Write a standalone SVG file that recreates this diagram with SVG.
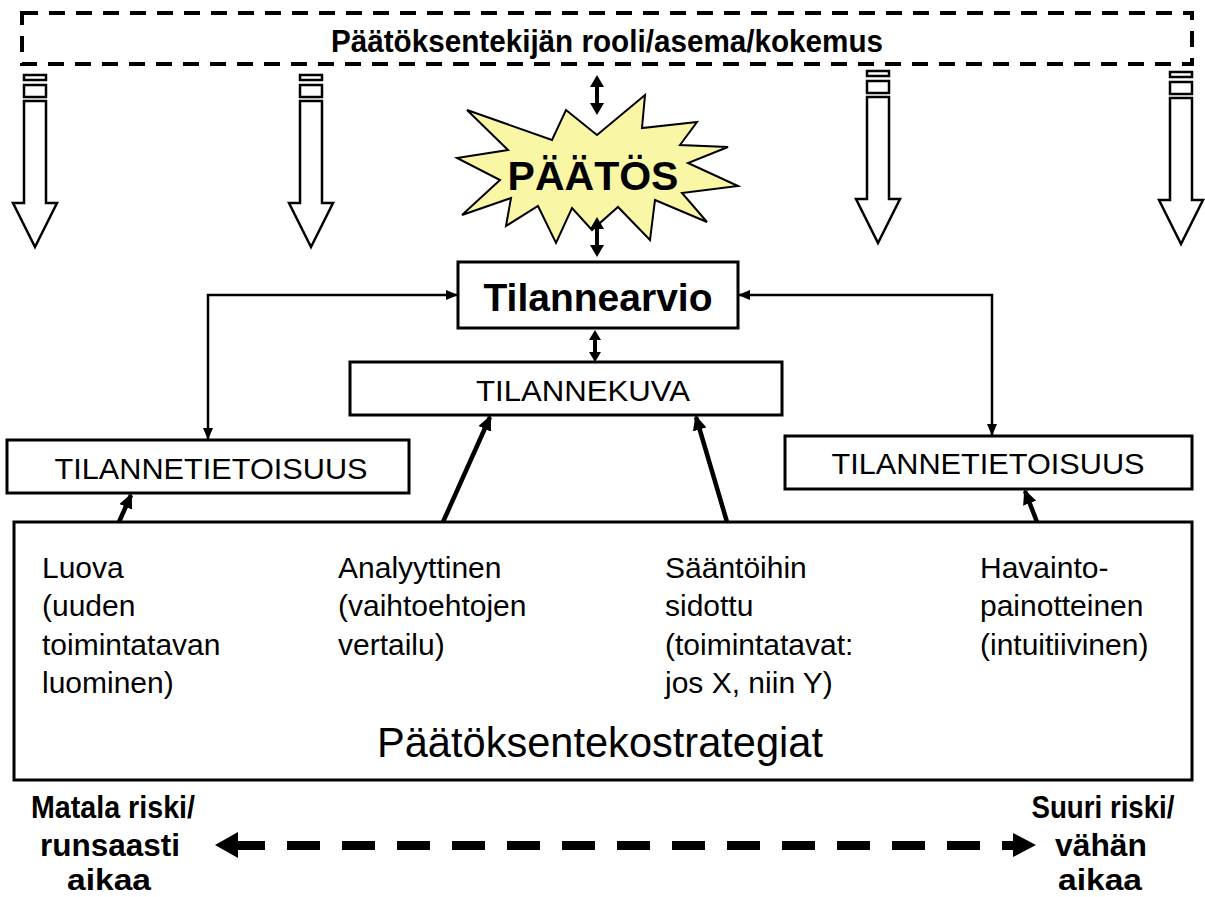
<svg xmlns="http://www.w3.org/2000/svg" width="1205" height="897" viewBox="0 0 1205 897">
  <style>
    .box { fill: #fff; stroke: #000; stroke-width: 3; }
    .hollow { fill: #fff; stroke: #000; stroke-width: 2.5; }
    .solid { fill: #000; stroke: none; }
    .thin { fill: none; stroke: #000; stroke-width: 2.5; }
    .thick { fill: none; stroke: #000; stroke-width: 4.5; }
    .sans { font-family: "Liberation Sans", Arial, sans-serif; fill: #000; }
    .bold { font-weight: bold; }
    .mid { text-anchor: middle; }
    .body { font-size: 30px; }
  </style>
  <defs>
    <marker id="tip" markerUnits="userSpaceOnUse" markerWidth="12" markerHeight="10" refX="12" refY="5" orient="auto-start-reverse">
      <path d="M0,0 L12,5 L0,10 z" fill="#000"/>
    </marker>
    <marker id="tipBig" markerUnits="userSpaceOnUse" markerWidth="15" markerHeight="14" refX="13" refY="7" orient="auto">
      <path d="M0,0 L15,7 L0,14 z" fill="#000"/>
    </marker>
    <!-- hollow downward arrow with two header bars -->
    <g id="hollowArrow">
      <rect class="hollow" x="-11" y="0" width="22" height="5"/>
      <rect class="hollow" x="-11" y="10" width="22" height="12"/>
      <path class="hollow" d="M-11,26 H11 V128 H22 L0,172 L-22,128 H-11 Z"/>
    </g>
    <!-- small vertical double-headed arrow, centred on 0 -->
    <path id="dbl" d="M0,0 L7,12 L2,12 L2,28 L7,28 L0,40 L-7,28 L-2,28 L-2,12 L-7,12 Z"/>
  </defs>

  <!-- decision maker role frame -->
  <g id="role">
    <rect x="22" y="13" width="1170" height="51" fill="none" stroke="#000" stroke-width="4" stroke-dasharray="16 11"/>
    <text class="sans bold mid" x="607" y="52" font-size="32" textLength="552" lengthAdjust="spacingAndGlyphs">Päätöksentekijän rooli/asema/kokemus</text>
  </g>

  <!-- influence arrows from the role frame -->
  <g id="influence">
    <use href="#hollowArrow" x="35" y="75"/>
    <use href="#hollowArrow" x="311" y="75"/>
    <use href="#hollowArrow" x="878" y="71"/>
    <use href="#hollowArrow" x="1181" y="72"/>
  </g>

  <!-- decision burst -->
  <g id="paatos">
    <polygon points="467,110 552,140 566,110 597,135 645,95 642,128 697,122 680,145 728,147 688,163 738,186 682,193 707,222 655,200 650,240 618,207 592,230 572,208 556,243 538,206 506,226 511,198 462,215 500,180 457,158 508,150" fill="#F9F7A6" stroke="#000" stroke-width="2"/>
    <text class="sans bold mid" x="593" y="190" font-size="41">PÄÄTÖS</text>
  </g>

  <g id="tilannearvio">
    <rect class="box" x="458" y="262" width="280" height="66"/>
    <text class="sans bold mid" x="598" y="311" font-size="39">Tilannearvio</text>
  </g>

  <g id="tilannekuva">
    <rect class="box" x="350" y="362" width="432" height="53"/>
    <text class="sans mid" x="583" y="401" font-size="30" textLength="214" lengthAdjust="spacingAndGlyphs">TILANNEKUVA</text>
  </g>

  <g id="tietoisuus-left">
    <rect class="box" x="7" y="440" width="402" height="53"/>
    <text class="sans mid" x="211" y="479" font-size="30" textLength="313" lengthAdjust="spacingAndGlyphs">TILANNETIETOISUUS</text>
  </g>

  <g id="tietoisuus-right">
    <rect class="box" x="785" y="436" width="407" height="53"/>
    <text class="sans mid" x="988" y="474" font-size="30" textLength="313" lengthAdjust="spacingAndGlyphs">TILANNETIETOISUUS</text>
  </g>

  <g id="strategiat">
    <rect class="box" x="14" y="522" width="1178" height="258"/>
    <text class="sans body" x="42" y="578">Luova</text>
    <text class="sans body" x="42" y="616">(uuden</text>
    <text class="sans body" x="42" y="655">toimintatavan</text>
    <text class="sans body" x="42" y="693">luominen)</text>
    <text class="sans body" x="338" y="578">Analyyttinen</text>
    <text class="sans body" x="338" y="616">(vaihtoehtojen</text>
    <text class="sans body" x="338" y="655">vertailu)</text>
    <text class="sans body" x="665" y="578">Sääntöihin</text>
    <text class="sans body" x="665" y="616">sidottu</text>
    <text class="sans body" x="665" y="655">(toimintatavat:</text>
    <text class="sans body" x="665" y="693">jos X, niin Y)</text>
    <text class="sans body" x="980" y="578">Havainto-</text>
    <text class="sans body" x="980" y="616">painotteinen</text>
    <text class="sans body" x="980" y="655">(intuitiivinen)</text>
    <text class="sans mid" x="600" y="757" font-size="42" textLength="446" lengthAdjust="spacingAndGlyphs">Päätöksentekostrategiat</text>
  </g>

  <!-- risk / time scale -->
  <g id="risk-low">
    <text class="sans bold mid" x="113" y="818" font-size="31" textLength="164" lengthAdjust="spacingAndGlyphs">Matala riski/</text>
    <text class="sans bold mid" x="110" y="856" font-size="31" textLength="140" lengthAdjust="spacingAndGlyphs">runsaasti</text>
    <text class="sans bold mid" x="109" y="890" font-size="30" textLength="84" lengthAdjust="spacingAndGlyphs">aikaa</text>
  </g>
  <g id="risk-high">
    <text class="sans bold mid" x="1103" y="818" font-size="31" textLength="143" lengthAdjust="spacingAndGlyphs">Suuri riski/</text>
    <text class="sans bold mid" x="1101" y="856" font-size="31" textLength="92" lengthAdjust="spacingAndGlyphs">vähän</text>
    <text class="sans bold mid" x="1100" y="890" font-size="30" textLength="84" lengthAdjust="spacingAndGlyphs">aikaa</text>
  </g>

  <g id="connectors">
    <!-- role frame <-> decision <-> assessment -->
    <use href="#dbl" class="solid" x="597" y="75"/>
    <use href="#dbl" class="solid" x="597" y="217"/>
    <path class="solid" d="M595,330 L601,340 L597,340 L597,352 L601,352 L595,362 L589,352 L593,352 L593,340 L589,340 Z"/>
    <!-- assessment <-> situational awareness -->
    <path class="thin" d="M458,295 H208 V440" marker-start="url(#tip)" marker-end="url(#tip)"/>
    <path class="thin" d="M738,295 H992 V436" marker-start="url(#tip)" marker-end="url(#tip)"/>
    <!-- strategies feeding awareness and picture -->
    <line class="thick" x1="119" y1="522" x2="131" y2="495" marker-end="url(#tipBig)"/>
    <line class="thick" x1="443" y1="522" x2="490" y2="417" marker-end="url(#tipBig)"/>
    <line class="thick" x1="727" y1="522" x2="696" y2="417" marker-end="url(#tipBig)"/>
    <line class="thick" x1="1037" y1="522" x2="1025" y2="491" marker-end="url(#tipBig)"/>
    <!-- dashed risk scale -->
    <polygon class="solid" points="215,845 238,832 238,858"/>
    <rect class="solid" x="237" y="841" width="28" height="9"/>
    <line x1="287" y1="845.5" x2="1014" y2="845.5" stroke="#000" stroke-width="9" stroke-dasharray="33 22"/>
    <polygon class="solid" points="1036,845 1013,833 1013,857"/>
  </g>
</svg>
